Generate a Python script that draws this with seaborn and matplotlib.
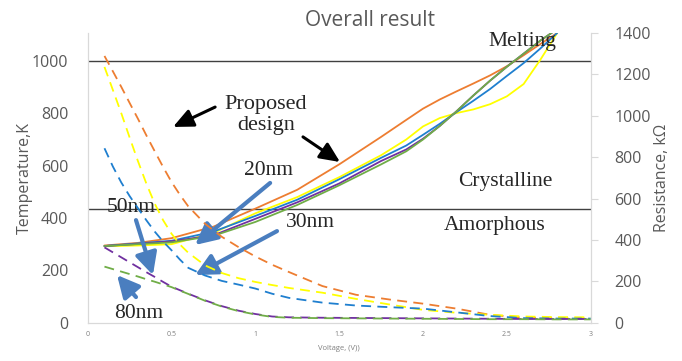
import matplotlib
matplotlib.use("Agg")
import matplotlib.pyplot as plt
import seaborn as sns
import pandas as pd
from matplotlib.patches import ArrowStyle

# ---------------- data ----------------
voltage_solid = [0.1, 0.3, 0.5, 0.75, 1.0, 1.25, 1.5, 1.75, 1.9, 2.0, 2.1, 2.2, 2.3, 2.4, 2.5, 2.6, 2.7, 2.8]
temp_orange = [295, 305, 323, 367, 436, 508, 605, 710, 775, 818, 853, 884, 914, 945, 980, 1022, 1065, 1107]
temp_yellow = [292, 295, 300, 343, 418, 480, 556, 640, 700, 750, 782, 801, 815, 835, 865, 912, 1005, 1107]
temp_blue   = [293, 303, 313, 348, 408, 470, 548, 630, 677, 718, 760, 805, 848, 893, 943, 992, 1048, 1107]
temp_purple = [293, 301, 311, 334, 397, 460, 532, 618, 662, 703, 752, 808, 868, 925, 978, 1028, 1078, 1122]
temp_green  = [293, 300, 307, 332, 385, 450, 525, 605, 655, 700, 752, 808, 868, 925, 978, 1028, 1078, 1122]

voltage_dash = [0.1, 0.15, 0.2, 0.25, 0.3, 0.35, 0.4, 0.45, 0.5, 0.55, 0.6, 0.7, 0.8, 0.9, 1.0,
                1.1, 1.2, 1.4, 1.6, 1.8, 2.0, 2.2, 2.4, 2.6, 2.8, 3.0]
res_orange = [1289, 1215, 1140, 1062, 985, 905, 828, 752, 680, 618, 562, 478, 415, 365, 320,
              280, 245, 177, 135, 112, 92, 68, 38, 24, 22, 20]
res_yellow = [1236, 1125, 1013, 895, 780, 672, 575, 495, 430, 378, 338, 277, 240, 215, 197,
              182, 168, 145, 115, 88, 62, 48, 38, 30, 27, 26]
res_blue   = [843, 755, 678, 612, 553, 495, 440, 392, 350, 305, 265, 228, 202, 184, 165,
              140, 120, 97, 83, 75, 68, 50, 32, 22, 20, 20]
res_purple = [364, 340, 316, 292, 268, 244, 221, 197, 174, 157, 140, 108, 80, 58, 42,
              30, 26, 24, 23, 22, 21, 20, 19, 18, 18, 18]
res_green  = [271, 259, 247, 235, 223, 210, 198, 185, 172, 155, 139, 106, 78, 56, 40,
              28, 24, 22, 21, 20, 19, 18, 17, 17, 16, 16]

series_names = ["orange", "yellow", "blue", "purple", "green"]
colors = {"orange": "#ED7D31", "yellow": "#FFFF00", "blue": "#1F7FCF",
          "purple": "#7030A0", "green": "#70AD47"}

x_ticks = [0, 0.5, 1, 1.5, 2, 2.5, 3]
x_ticklabels = ["0", "0.5", "1", "1.5", "2", "2.5", "3"]
left_ticks = [0, 200, 400, 600, 800, 1000]
right_ticks = [0, 200, 400, 600, 800, 1000, 1200, 1400]
hlines_temp = [1000, 433]

solid = pd.DataFrame({"V": voltage_solid, "orange": temp_orange, "yellow": temp_yellow,
                      "blue": temp_blue, "purple": temp_purple, "green": temp_green})
dashed = pd.DataFrame({"V": voltage_dash, "orange": res_orange, "yellow": res_yellow,
                       "blue": res_blue, "purple": res_purple, "green": res_green})

# ---------------- style ----------------
sns.set_theme(style="white")
plt.rcParams["font.family"] = ["Open Sans", "DejaVu Sans"]
GRAY = "#595959"
SPINE = "#D9D9D9"
ARROW_BLUE = "#4A7EBF"
serif = ["Liberation Serif", "DejaVu Serif"]

W, H = 682, 361
fig = plt.figure(figsize=(W / 100, H / 100), dpi=100)
L, R, T, B = 87.7, 590.7, 33, 322.7
ax = fig.add_axes([L / W, 1 - B / H, (R - L) / W, (B - T) / H])
ax2 = ax.twinx()

for name in series_names:
    sns.lineplot(data=solid, x="V", y=name, ax=ax, color=colors[name], lw=1.3,
                 legend=False, sort=False)
for name in series_names:
    sns.lineplot(data=dashed, x="V", y=name, ax=ax2, color=colors[name], lw=1.3,
                 legend=False, sort=False)
for ln in ax2.lines:
    ln.set_linestyle((0, (5.5, 3.5)))

for h in hlines_temp:
    ax.axhline(h, color="#404040", lw=1.0, zorder=1)

ax.set_xlim(0, 3)
ax.set_ylim(0, 1107)
ax2.set_ylim(0, 1400)
ax.set_xticks(x_ticks)
ax.set_xticklabels(x_ticklabels)
ax.set_yticks(left_ticks)
ax2.set_yticks(right_ticks)

ax.tick_params(axis="x", length=0, pad=6, labelsize=5, labelcolor="#7F7F7F")
ax.tick_params(axis="y", length=0, pad=14, labelsize=11.5, labelcolor=GRAY)
ax2.tick_params(axis="y", length=5, width=0.8, color=SPINE, pad=12, labelsize=11.5,
                labelcolor=GRAY, direction="out", right=True)

for a in (ax, ax2):
    a.spines["top"].set_visible(False)
    for s in ("left", "bottom", "right"):
        a.spines[s].set_color(SPINE)
        a.spines[s].set_linewidth(0.9)
ax.spines["right"].set_visible(False)
ax2.spines["left"].set_visible(False)
ax2.spines["bottom"].set_visible(False)

ax.set_xlabel("Voltage, (V))", fontsize=5.5, color="#7F7F7F", labelpad=5)
ax.set_ylabel("Temperature,K", fontsize=11.5, color=GRAY, labelpad=-1)
ax2.set_ylabel("Resistance, kΩ", fontsize=11.5, color=GRAY, labelpad=2)
ax.grid(False)
ax2.grid(False)

fig.text(370 / W, 1 - 20 / H, "Overall result", fontsize=15, color=GRAY,
         ha="center", va="center")

# ---------------- annotations ----------------
ax.text(2.59, 1075, "Melting", family=serif, fontsize=15.5, ha="center", va="center")
ax.text(1.063, 794, "Proposed\ndesign", family=serif, fontsize=16, ha="center",
        va="center", linespacing=1.1)
ax.text(1.081, 583, "20nm", family=serif, fontsize=15.5, ha="center", va="center")
ax.text(2.489, 538, "Crystalline", family=serif, fontsize=15.5, ha="center", va="center")
ax.text(2.429, 373, "Amorphous", family=serif, fontsize=15.5, ha="center", va="center")
ax.text(0.258, 442, "50nm", family=serif, fontsize=15.5, ha="center", va="center")
ax.text(1.331, 381, "30nm", family=serif, fontsize=15.5, ha="center", va="center")
ax.text(0.306, 37, "80nm", family=serif, fontsize=15.5, ha="center", va="center")

blue_style = ArrowStyle("-|>", head_length=1.1, head_width=0.55)
black_style = ArrowStyle("-|>", head_length=1.1, head_width=0.5)
blue_arrows = [((1.088, 534), (0.641, 297)), ((1.129, 350), (0.641, 182)),
               ((0.288, 392), (0.389, 182)), ((0.288, 98), (0.175, 182))]
black_arrows = [((0.760, 824), (0.509, 748)), ((1.284, 710), (1.505, 614))]
for start, end in blue_arrows:
    ax.annotate("", xy=end, xytext=start,
                arrowprops=dict(arrowstyle=blue_style, color=ARROW_BLUE, lw=3,
                                mutation_scale=12, shrinkA=0, shrinkB=0), zorder=6)
for start, end in black_arrows:
    ax.annotate("", xy=end, xytext=start,
                arrowprops=dict(arrowstyle=black_style, color="black", lw=2.2,
                                mutation_scale=11, shrinkA=0, shrinkB=0), zorder=6)

fig.savefig("out.png", dpi=100)
